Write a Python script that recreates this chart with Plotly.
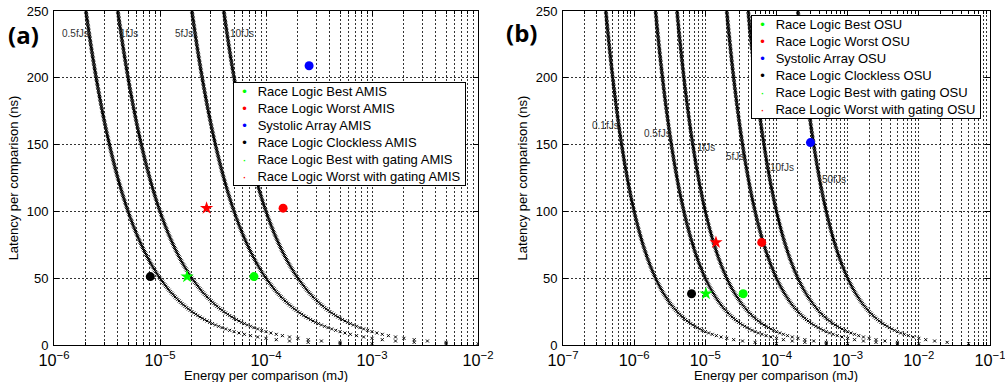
import numpy as np
import plotly.graph_objects as go

# ---------------- data ----------------
latency_grid = np.arange(1, 251, 1)  # ns, sampling of the iso-EDP curves

edp_a = [0.5, 1, 5, 10]            # fJs
edp_a_labels = ["0.5fJs", "1fJs", "5fJs", "10fJs"]
edp_b = [0.1, 0.5, 1, 5, 10, 50]   # fJs
edp_b_labels = ["0.1fJs", "0.5fJs", "1fJs", "5fJs", "10fJs", "50fJs"]

series_names_a = ["Race Logic Best AMIS", "Race Logic Worst AMIS", "Systolic Array AMIS",
                  "Race Logic Clockless AMIS", "Race Logic Best with gating AMIS",
                  "Race Logic Worst with gating AMIS"]
energy_a = [7.7e-5, 1.45e-4, 2.55e-4, 8.1e-6, 1.8e-5, 2.75e-5]     # mJ
latency_a = [51.2, 102.4, 209, 51.2, 51.2, 102.4]                 # ns

series_names_b = ["Race Logic Best OSU", "Race Logic Worst OSU", "Systolic Array OSU",
                  "Race Logic Clockless OSU", "Race Logic Best with gating OSU",
                  "Race Logic Worst with gating OSU"]
energy_b = [3.4e-5, 6.2e-5, 3.0e-4, 6.4e-6, 1.02e-5, 1.41e-5]      # mJ
latency_b = [38.4, 76.8, 151.5, 38.4, 38.4, 76.8]                 # ns

y_ticks = [0, 50, 100, 150, 200, 250]
x_title = "Energy per comparison (mJ)"
y_title = "Latency per comparison (ns)"

# label anchor positions (log10 energy, latency) for the iso-EDP labels
label_pos_a = [(-5.943, 233), (-5.396, 233), (-4.877, 233), (-4.358, 233)]
label_pos_b = [(-6.624, 164), (-5.897, 158), (-5.148, 148), (-4.74, 141), (-4.12, 133), (-3.39, 124)]

# ---------------- styles ----------------
colors = ["#00ff00", "#ff0000", "#0000ff", "#000000", "#00ff00", "#ff0000"]
symbols = ["circle", "circle", "circle", "circle", "star", "star"]
FONT = "Liberation Sans, Arial, sans-serif"

W, H = 1005, 382
L, R, T, B = 54, 15, 11, 37
pw = W - L - R
ph = H - T - B


def px_x(p):
    return (p - L) / pw


def px_y(p):
    return 1 - (p - T) / ph


fig = go.Figure()


def add_panel(xa, ya, edps, names, energies, latencies):
    for c in edps:
        e = c * 1e-3 / latency_grid
        fig.add_trace(go.Scatter(x=e, y=latency_grid, mode="markers", xaxis=xa, yaxis=ya,
                                 marker=dict(symbol="x-thin", size=3, color="black",
                                             line=dict(width=1, color="black")),
                                 showlegend=False, hoverinfo="skip"))
    for i, (n, e, l) in enumerate(zip(names, energies, latencies)):
        fig.add_trace(go.Scatter(x=[e], y=[l], mode="markers", xaxis=xa, yaxis=ya,
                                 marker=dict(symbol=symbols[i], size=9 if symbols[i] == "circle" else 10,
                                             color=colors[i], line=dict(width=0)),
                                 showlegend=False, name=n))


def legend_box(names, left_px, top_px):
    lines = []
    for i, n in enumerate(names):
        glyph = "•" if symbols[i] == "circle" else "·"
        lines.append(f'&nbsp;&nbsp;<span style="color:{colors[i]}">{glyph}</span>'
                     f'&nbsp;&nbsp;&nbsp;{n}&nbsp;')
    fig.add_annotation(x=px_x(left_px), y=px_y(top_px), xref="paper", yref="paper",
                       xanchor="left", yanchor="top", align="left", showarrow=False,
                       text="<br>".join(lines), bgcolor="white", bordercolor="black",
                       borderwidth=1, borderpad=1,
                       font=dict(size=13, family=FONT, color="black"))


add_panel("x", "y", edp_a, series_names_a, energy_a, latency_a)
add_panel("x2", "y2", edp_b, series_names_b, energy_b, latency_b)

for (lx, ly), t in zip(label_pos_a, edp_a_labels):
    fig.add_annotation(x=lx, y=ly, xref="x", yref="y", text=t, showarrow=False,
                       xanchor="left", yanchor="middle", font=dict(size=10, color="#333", family=FONT))
for (lx, ly), t in zip(label_pos_b, edp_b_labels):
    fig.add_annotation(x=lx, y=ly, xref="x2", yref="y2", text=t, showarrow=False,
                       xanchor="left", yanchor="middle", font=dict(size=10, color="#333", family=FONT))

legend_box(series_names_a, 233, 82)
legend_box(series_names_b, 751, 15)

# x-axis titles placed just below tick labels
for cx in (266, 776):
    fig.add_annotation(x=px_x(cx), y=px_y(375), xref="paper", yref="paper", text=x_title,
                       showarrow=False, xanchor="center", yanchor="middle",
                       font=dict(size=13, family=FONT, color="black"))

grid_dash = "2px,2px"
common_x = dict(type="log", dtick=1, exponentformat="power", showline=True, linecolor="black",
                linewidth=1, mirror="ticks", ticks="inside", ticklen=5, tickcolor="black",
                showgrid=True, gridcolor="#333", griddash=grid_dash, gridwidth=1,
                minor=dict(showgrid=True, gridcolor="#333", griddash=grid_dash, gridwidth=1,
                           ticks="inside", ticklen=3, tickcolor="black"),
                tickfont=dict(size=13, family=FONT, color="black"),
                ticklabelstandoff=1, automargin=False, ticklabeloverflow="allow",
                zeroline=False)
common_y = dict(range=[0, 250], tickvals=y_ticks, showline=True, linecolor="black", linewidth=1,
                mirror="ticks", ticks="inside", ticklen=5, tickcolor="black",
                showgrid=True, gridcolor="#333", griddash=grid_dash, gridwidth=1,
                tickfont=dict(size=13, family=FONT, color="black"),
                ticklabelstandoff=2, automargin=False,
                title=dict(text=y_title, font=dict(size=13, family=FONT, color="black"),
                           standoff=5),
                zeroline=False)

fig.update_layout(
    width=W, height=H, margin=dict(l=L, r=R, t=T, b=B),
    paper_bgcolor="white", plot_bgcolor="white",
    font=dict(family=FONT, color="black"),
    xaxis=dict(common_x, domain=[0, px_x(478)], range=[-6, -2], anchor="y"),
    yaxis=dict(common_y, domain=[0, 1], anchor="x"),
    xaxis2=dict(common_x, domain=[px_x(563), 1], range=[-7, -0.99999], anchor="y2"),
    yaxis2=dict(common_y, domain=[0, 1], anchor="x2"),
    showlegend=False,
)

fig.add_annotation(x=px_x(23), y=px_y(34), xref="paper", yref="paper", text="<b>(a)</b>",
                   showarrow=False, xanchor="center", yanchor="middle",
                   font=dict(size=24, family="Open Sans, Liberation Sans, sans-serif", color="black"))
fig.add_annotation(x=px_x(521), y=px_y(32), xref="paper", yref="paper", text="<b>(b)</b>",
                   showarrow=False, xanchor="center", yanchor="middle",
                   font=dict(size=24, family="Open Sans, Liberation Sans, sans-serif", color="black"))

fig.write_html("out.html")
